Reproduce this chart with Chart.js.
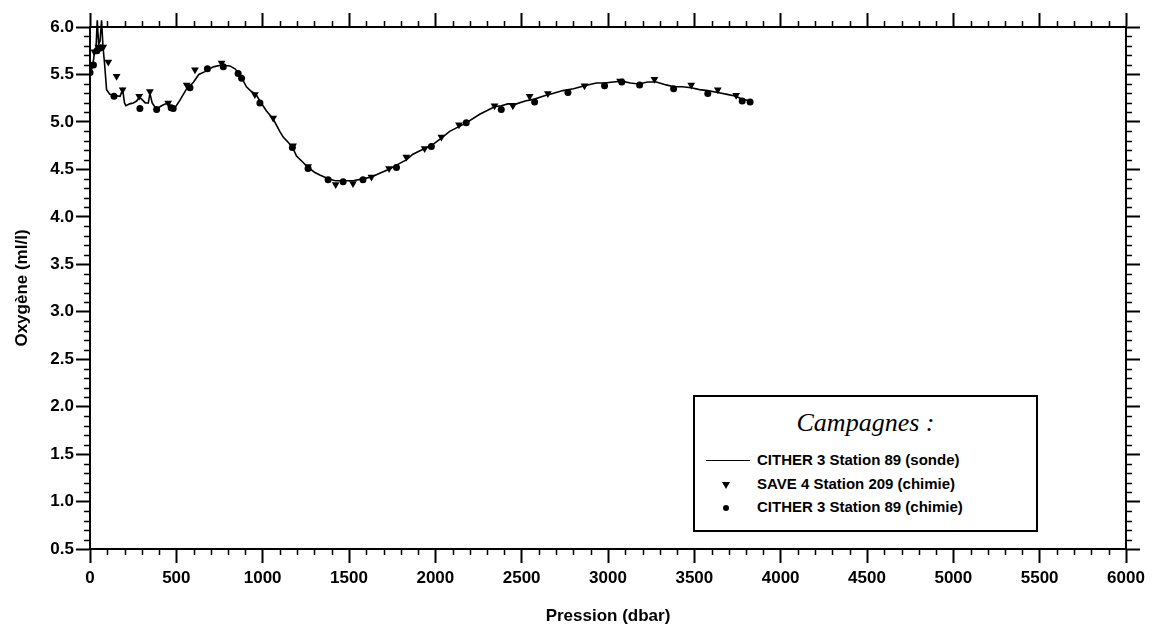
<!DOCTYPE html>
<html>
<head>
<meta charset="utf-8">
<script src="https://cdn.jsdelivr.net/npm/chart.js@4"></script>
<style>
    body { margin: 0; background: #fff; }
    #wrap { position: relative; width: 1154px; height: 631px; }
    #legendBox {
        position: absolute; left: 693px; top: 395px; width: 345px; height: 137px;
        box-sizing: border-box; border: 2px solid #000; background: #fff;
        font-family: "Liberation Sans", Arial, sans-serif; color: #000;
    }
    #legendBox .title {
        font-family: "Liberation Serif", "Times New Roman", serif; font-style: italic;
        font-size: 26px; text-align: center; margin-top: 11px; height: 41px;
    }
    #legendBox .row { position: relative; height: 23.5px; font-size: 15px; font-weight: bold; }
    #legendBox .row span { position: absolute; left: 62px; top: 2px; }
    .sym-line { position: absolute; left: 11px; top: 11px; width: 44px; border-top: 1.5px solid #000; }
    .sym-tri { position: absolute; left: 27px; top: 9px; width: 0; height: 0;
        border-left: 4px solid transparent; border-right: 4px solid transparent; border-top: 7px solid #000; }
    .sym-dot { position: absolute; left: 28px; top: 9px; width: 6px; height: 6px; border-radius: 50%; background: #000; }
</style>
</head>
<body>
<div id="wrap">
    <canvas id="oxyChart" width="1154" height="631"></canvas>
    <div id="legendBox">
        <div class="title">Campagnes :</div>
        <div class="row"><div class="sym-line"></div><span>CITHER 3 Station 89 (sonde)</span></div>
        <div class="row"><div class="sym-tri"></div><span>SAVE 4 Station 209 (chimie)</span></div>
        <div class="row"><div class="sym-dot"></div><span>CITHER 3 Station 89 (chimie)</span></div>
    </div>
</div>
<script>
// CITHER 3 station 89, sonde profile
const sondePression = [0, 15, 25, 35, 42, 50, 58, 67, 75, 85, 96, 115, 134, 174, 189, 200, 208, 230, 251, 270,
    285, 299, 320, 338, 347, 360, 386, 405, 425, 453, 470, 482, 500, 521, 560, 580, 600, 630, 666, 714,
    762, 810, 840, 868, 906, 935, 961, 984, 1020, 1061, 1099, 1119, 1150, 1176, 1196, 1230, 1263, 1300, 1331, 1380,
    1420, 1466, 1523, 1580, 1630, 1678, 1732, 1780, 1832, 1870, 1938, 1977, 2035, 2083, 2137, 2179, 2257, 2300, 2343, 2382,
    2420, 2470, 2520, 2575, 2623, 2680, 2739, 2800, 2864, 2932, 2980, 3030, 3080, 3130, 3178, 3230, 3280, 3337, 3380, 3430,
    3482, 3530, 3578, 3636, 3690, 3742, 3777, 3800, 3823];
const sondeOxygene = [5.51, 5.58, 5.72, 5.78, 6.07, 5.82, 5.85, 6.07, 5.8, 5.6, 5.34, 5.29, 5.28, 5.27, 5.34, 5.2, 5.17, 5.19, 5.2, 5.22,
    5.26, 5.24, 5.2, 5.2, 5.3, 5.2, 5.13, 5.16, 5.18, 5.2, 5.16, 5.14, 5.17, 5.23, 5.35, 5.38, 5.42, 5.5, 5.53, 5.58,
    5.6, 5.59, 5.56, 5.5, 5.37, 5.32, 5.29, 5.22, 5.12, 5.03, 4.9, 4.84, 4.78, 4.72, 4.64, 4.58, 4.52, 4.47, 4.44, 4.4,
    4.38, 4.38, 4.38, 4.4, 4.42, 4.46, 4.5, 4.55, 4.6, 4.66, 4.72, 4.75, 4.83, 4.9, 4.95, 4.99, 5.08, 5.12, 5.16, 5.17,
    5.19, 5.19, 5.22, 5.24, 5.27, 5.3, 5.33, 5.35, 5.38, 5.41, 5.41, 5.42, 5.43, 5.41, 5.4, 5.42, 5.42, 5.39, 5.37, 5.37,
    5.36, 5.34, 5.33, 5.31, 5.29, 5.27, 5.24, 5.23, 5.22];

// SAVE 4 station 209, bottle samples
const savePression = [25, 48, 77, 106, 154, 189, 285, 347, 453, 560, 608, 762, 955, 1061, 1176, 1263, 1423, 1523, 1630, 1732,
    1832, 1938, 2035, 2137, 2343, 2449, 2546, 2652, 2864, 3070, 3269, 3482, 3636, 3742];
const saveOxygene = [5.74, 5.79, 5.79, 5.63, 5.48, 5.34, 5.27, 5.32, 5.2, 5.39, 5.55, 5.62, 5.29, 5.04, 4.75, 4.53, 4.34, 4.35, 4.42, 4.51,
    4.63, 4.72, 4.84, 4.97, 5.17, 5.17, 5.27, 5.3, 5.38, 5.43, 5.45, 5.39, 5.34, 5.28];

// CITHER 3 station 89, bottle samples
const citherPression = [0, 20, 40, 60, 139, 289, 386, 470, 482, 579, 680, 772, 858, 878, 984, 1172, 1263, 1379, 1466, 1581,
    1775, 1977, 2179, 2382, 2575, 2768, 2980, 3080, 3183, 3380, 3578, 3777, 3823];
const citherOxygene = [5.52, 5.6, 5.75, 5.78, 5.27, 5.14, 5.13, 5.15, 5.14, 5.36, 5.56, 5.58, 5.51, 5.46, 5.2, 4.73, 4.51, 4.39, 4.37, 4.39,
    4.52, 4.74, 4.99, 5.13, 5.21, 5.31, 5.38, 5.42, 5.39, 5.35, 5.3, 5.22, 5.21];

const xMin = 0, xMax = 6000, xMajor = 500, xMinor = 100;
const yMin = 0.5, yMax = 6.0, yMajor = 0.5, yMinor = 0.1;

const toPoints = (xs, ys) => xs.map((x, i) => ({x: x, y: ys[i]}));

// short ticks between the labelled ones, on all four sides
const minorTicks = {
    id: 'minorTicks',
    afterDraw(chart) {
        const ctx = chart.ctx;
        const area = chart.chartArea;
        const len = 6;
        ctx.save();
        ctx.strokeStyle = '#000';
        ctx.lineWidth = 1.5;
        ctx.beginPath();
        const xs = chart.scales.x;
        for (let i = 0; i <= (xMax - xMin) / xMinor; i++) {
            if (i % (xMajor / xMinor) === 0) continue;
            const px = Math.round(xs.getPixelForValue(xMin + i * xMinor)) + 0.5;
            ctx.moveTo(px, area.bottom); ctx.lineTo(px, area.bottom + len);
            ctx.moveTo(px, area.top); ctx.lineTo(px, area.top - len);
        }
        const ys = chart.scales.y;
        const nY = Math.round((yMax - yMin) / yMinor);
        for (let i = 0; i <= nY; i++) {
            if (i % 5 === 0) continue;
            const py = Math.round(ys.getPixelForValue(yMin + i * yMinor)) + 0.5;
            ctx.moveTo(area.left, py); ctx.lineTo(area.left - len, py);
            ctx.moveTo(area.right, py); ctx.lineTo(area.right + len, py);
        }
        ctx.stroke();
        ctx.restore();
    }
};

window.addEventListener('load', () => {
    const tickFont = {family: '"Liberation Sans", Arial, sans-serif', size: 17, weight: 'bold'};
    const majorGrid = {drawOnChartArea: false, drawTicks: true, tickLength: 14, tickWidth: 2, tickColor: '#000'};
    const frame = {display: true, color: '#000', width: 2};

    new Chart(document.getElementById('oxyChart'), {
        type: 'scatter',
        data: {
            datasets: [
                {
                    label: 'CITHER 3 Station 89 (sonde)',
                    type: 'line',
                    data: toPoints(sondePression, sondeOxygene),
                    borderColor: '#000', borderWidth: 1.6, pointRadius: 0, tension: 0, fill: false,
                    clip: {left: 0, top: 10, right: 0, bottom: 0}
                },
                {
                    label: 'SAVE 4 Station 209 (chimie)',
                    data: toPoints(savePression, saveOxygene),
                    pointStyle: 'triangle', rotation: 180, pointRadius: 4.5,
                    backgroundColor: '#000', borderColor: '#000', borderWidth: 0
                },
                {
                    label: 'CITHER 3 Station 89 (chimie)',
                    data: toPoints(citherPression, citherOxygene),
                    pointStyle: 'circle', pointRadius: 3.5,
                    backgroundColor: '#000', borderColor: '#000', borderWidth: 0
                }
            ]
        },
        options: {
            responsive: false,
            animation: false,
            layout: {padding: 0},
            plugins: {legend: {display: false}, tooltip: {enabled: false}},
            scales: {
                x: {
                    type: 'linear', position: 'bottom', min: xMin, max: xMax,
                    ticks: {stepSize: xMajor, color: '#000', font: tickFont, padding: 5, maxRotation: 0,
                        callback: v => String(v)},
                    grid: majorGrid, border: frame,
                    title: {display: true, text: 'Pression (dbar)', color: '#000', font: tickFont, padding: {top: 6}},
                    afterFit: s => { s.height = 82; }
                },
                x2: {
                    type: 'linear', position: 'top', min: xMin, max: xMax,
                    ticks: {stepSize: xMajor, display: false},
                    grid: majorGrid, border: frame,
                    afterFit: s => { s.height = 27; }
                },
                y: {
                    type: 'linear', position: 'left', min: yMin, max: yMax,
                    ticks: {stepSize: yMajor, color: '#000', font: tickFont, padding: 2,
                        callback: v => v.toFixed(1)},
                    grid: majorGrid, border: frame,
                    title: {display: true, text: 'Oxygène (ml/l)', color: '#000', font: tickFont, padding: {top: 12, bottom: 0}},
                    afterFit: s => { s.width = 90; }
                },
                y2: {
                    type: 'linear', position: 'right', min: yMin, max: yMax,
                    ticks: {stepSize: yMajor, display: false},
                    grid: majorGrid, border: frame,
                    afterFit: s => { s.width = 28; }
                }
            }
        },
        plugins: [minorTicks]
    });
});
</script>
</body>
</html>
